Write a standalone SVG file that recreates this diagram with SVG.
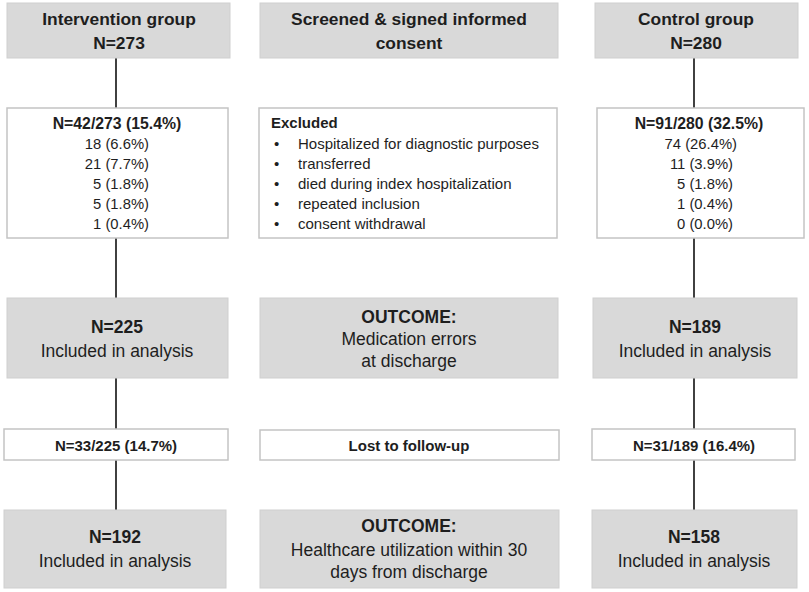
<svg xmlns="http://www.w3.org/2000/svg" width="809" height="592" viewBox="0 0 809 592">
<style>
  .g { fill: #d9d9d9; stroke: #cfcfcf; stroke-width: 1; }
  .w { fill: #ffffff; stroke: #c4c4c4; stroke-width: 1.5; }
  text { font-family: "Liberation Sans", Arial, sans-serif; fill: #1e1e1e; }
  .t { font-size: 17.4px; font-weight: bold; text-anchor: middle; }
  .b3 { font-size: 17.5px; font-weight: bold; text-anchor: middle; }
  .r3 { font-size: 17.5px; text-anchor: middle; }
  .hb { font-size: 15.8px; font-weight: bold; text-anchor: middle; }
  .lb { font-size: 15px; font-weight: bold; text-anchor: middle; }
  .n { font-size: 14.8px; text-anchor: end; }
  .ex { font-size: 15px; }
  .conn line { stroke: #111; stroke-width: 1.6; }
</style>
<rect width="809" height="592" fill="#ffffff"/>

<g class="conn" id="connectors">
  <line x1="116" y1="58" x2="116" y2="108"/>
  <line x1="116" y1="238" x2="116" y2="298"/>
  <line x1="116" y1="378" x2="116" y2="429"/>
  <line x1="116" y1="460" x2="116" y2="510"/>
  <line x1="694" y1="58" x2="694" y2="108"/>
  <line x1="694" y1="238" x2="694" y2="298"/>
  <line x1="694" y1="378" x2="694" y2="429"/>
  <line x1="694" y1="460" x2="694" y2="510"/>
</g>

<g id="intervention">
  <rect class="g" x="7" y="3" width="223" height="55"/>
  <text class="t" x="119" y="25">Intervention group</text>
  <text class="t" x="119" y="49">N=273</text>
</g>
<g id="screened">
  <rect class="g" x="260" y="3" width="298" height="55"/>
  <text class="t" x="409" y="25">Screened &amp; signed informed</text>
  <text class="t" x="409" y="49">consent</text>
</g>
<g id="control">
  <rect class="g" x="595" y="3" width="203" height="55"/>
  <text class="t" x="696" y="25">Control group</text>
  <text class="t" x="696" y="49">N=280</text>
</g>

<g id="excl-intervention">
  <rect class="w" x="7" y="108" width="221" height="130"/>
  <text class="hb" x="117" y="129">N=42/273 (15.4%)</text>
  <text class="n" x="149" y="149">18 (6.6%)</text>
  <text class="n" x="149" y="169">21 (7.7%)</text>
  <text class="n" x="149" y="189">5 (1.8%)</text>
  <text class="n" x="149" y="209">5 (1.8%)</text>
  <text class="n" x="149" y="229">1 (0.4%)</text>
</g>
<g id="excluded">
  <rect class="w" x="259" y="108" width="298" height="130"/>
  <text class="ex" x="271" y="128" font-weight="bold">Excluded</text>
  <text class="ex" x="274" y="149">•</text>
  <text class="ex" x="298" y="149">Hospitalized for diagnostic purposes</text>
  <text class="ex" x="274" y="169">•</text>
  <text class="ex" x="298" y="169">transferred</text>
  <text class="ex" x="274" y="189">•</text>
  <text class="ex" x="298" y="189">died during index hospitalization</text>
  <text class="ex" x="274" y="209">•</text>
  <text class="ex" x="298" y="209">repeated inclusion</text>
  <text class="ex" x="274" y="229">•</text>
  <text class="ex" x="298" y="229">consent withdrawal</text>
</g>
<g id="excl-control">
  <rect class="w" x="597" y="108" width="207" height="130"/>
  <text class="hb" x="699" y="129">N=91/280 (32.5%)</text>
  <text class="n" x="737" y="149">74 (26.4%)</text>
  <text class="n" x="733" y="169">11 (3.9%)</text>
  <text class="n" x="733" y="189">5 (1.8%)</text>
  <text class="n" x="733" y="209">1 (0.4%)</text>
  <text class="n" x="733" y="229">0 (0.0%)</text>
</g>

<g id="analysis-intervention-1">
  <rect class="g" x="7" y="298" width="221" height="80"/>
  <text class="b3" x="117" y="333">N=225</text>
  <text class="r3" x="117" y="357">Included in analysis</text>
</g>
<g id="outcome-1">
  <rect class="g" x="260" y="298" width="298" height="80"/>
  <text class="b3" x="409" y="323">OUTCOME:</text>
  <text class="r3" x="409" y="345">Medication errors</text>
  <text class="r3" x="409" y="367">at discharge</text>
</g>
<g id="analysis-control-1">
  <rect class="g" x="593" y="298" width="204" height="80"/>
  <text class="b3" x="695" y="333">N=189</text>
  <text class="r3" x="695" y="357">Included in analysis</text>
</g>

<g id="lost-intervention">
  <rect class="w" x="4" y="429" width="224" height="31"/>
  <text class="lb" x="116" y="451">N=33/225 (14.7%)</text>
</g>
<g id="lost">
  <rect class="w" x="260" y="430" width="299" height="30"/>
  <text class="lb" x="409" y="451">Lost to follow-up</text>
</g>
<g id="lost-control">
  <rect class="w" x="592" y="429" width="203" height="31"/>
  <text class="lb" x="694" y="451">N=31/189 (16.4%)</text>
</g>

<g id="analysis-intervention-2">
  <rect class="g" x="4" y="510" width="222" height="78"/>
  <text class="b3" x="115" y="543">N=192</text>
  <text class="r3" x="115" y="567">Included in analysis</text>
</g>
<g id="outcome-2">
  <rect class="g" x="260" y="510" width="299" height="78"/>
  <text class="b3" x="409" y="532">OUTCOME:</text>
  <text class="r3" x="409" y="556">Healthcare utilization within 30</text>
  <text class="r3" x="409" y="578">days from discharge</text>
</g>
<g id="analysis-control-2">
  <rect class="g" x="592" y="510" width="205" height="78"/>
  <text class="b3" x="694" y="543">N=158</text>
  <text class="r3" x="694" y="567">Included in analysis</text>
</g>
</svg>
